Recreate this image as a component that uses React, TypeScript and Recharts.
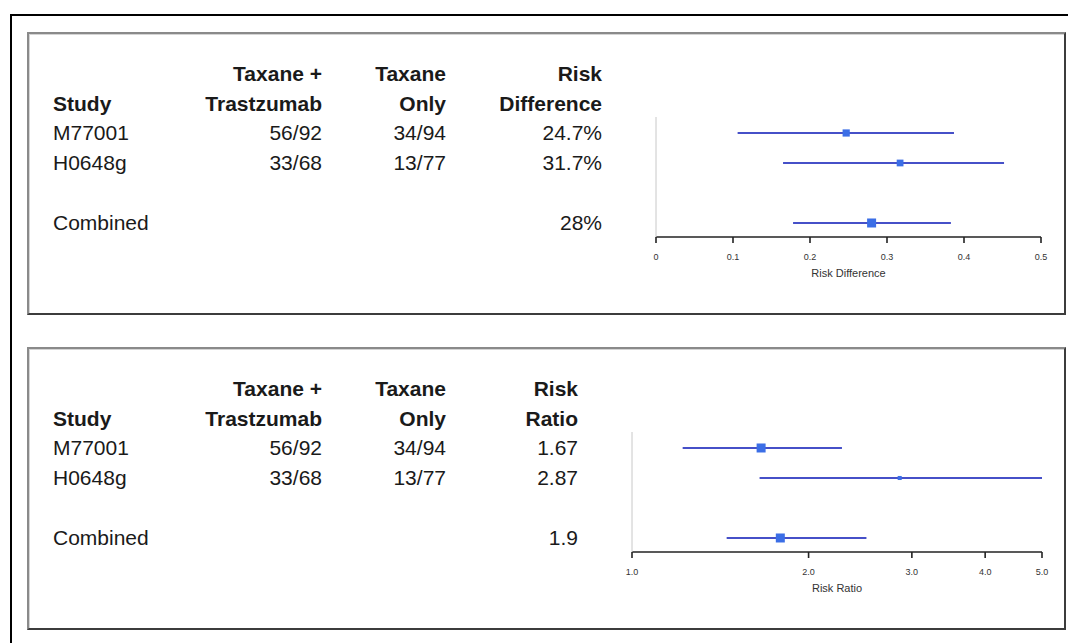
import React from "react";
import { ScatterChart, Scatter, XAxis, YAxis, ErrorBar } from "recharts";

// ---------- data ----------
const studies = ["M77001", "H0648g", "Combined"];
const treated = ["56/92", "33/68", ""];
const control = ["34/94", "13/77", ""];
const rowPos = [0, 1, 3];

const rdLabels = ["24.7%", "31.7%", "28%"];
const rdPoint = [0.247, 0.317, 0.28];
const rdLow = [0.106, 0.165, 0.178];
const rdHigh = [0.387, 0.452, 0.383];
const rdWeight = [0.8, 0.75, 1.0];
const rdTicks = [0, 0.1, 0.2, 0.3, 0.4, 0.5];

const rrLabels = ["1.67", "2.87", "1.9"];
const rrPoint = [1.66, 2.86, 1.79];
const rrLow = [1.22, 1.65, 1.45];
const rrHigh = [2.28, 5.0, 2.51];
const rrWeight = [1.0, 0.45, 1.0];
const rrTicks = [1, 2, 3, 4, 5];

// ---------- styling ----------
const FONT = "'Liberation Sans', Arial, Helvetica, sans-serif";
const LINE = "#4650c8";
const BOX = "#3b6ee6";
const MAXBOX = 9;

function buildData(pt: number[], lo: number[], hi: number[], w: number[]) {
  return pt.map((x, i) => ({
    x,
    y: rowPos[i],
    err: [x - lo[i], hi[i] - x],
    w: w[i],
  }));
}

function Square(props: any) {
  const { cx, cy, payload } = props;
  if (cx == null || cy == null) return null;
  const s = payload.w * MAXBOX;
  return <rect x={cx - s / 2} y={cy - s / 2} width={s} height={s} fill={BOX} />;
}

function Forest(props: {
  left: number;
  top: number;
  plotW: number;
  data: any[];
  domain: [number, number];
  ticks: number[];
  scale: any;
  fmt: (v: number) => string;
  label: string;
}) {
  const { left, top, plotW, data, domain, ticks, scale, fmt, label } = props;
  const m = { top: 10, right: 20, bottom: 5, left: 9 };
  const yw = 1;
  return (
    <div style={{ position: "absolute", left: left - m.left - yw, top: top - m.top }}>
      <ScatterChart width={plotW + m.left + m.right + yw} height={m.top + 120 + 41 + m.bottom} margin={m}>
        <XAxis
          type="number"
          dataKey="x"
          domain={domain}
          scale={scale}
          ticks={ticks}
          interval={0}
          allowDataOverflow
          tickFormatter={fmt}
          axisLine={{ stroke: "#222", strokeWidth: 1.6 }}
          tickLine={{ stroke: "#222", strokeWidth: 1.6 }}
          tickSize={6}
          tickMargin={11}
          height={41}
          tick={{ fontSize: 9, fill: "#333", fontFamily: FONT }}
          label={{ value: label, position: "insideBottom", offset: 1, fontSize: 11, fill: "#333", fontFamily: FONT }}
        />
        <YAxis
          type="number"
          dataKey="y"
          domain={[-0.533, 3.467]}
          reversed
          allowDataOverflow
          width={yw}
          tick={false}
          tickLine={false}
          axisLine={{ stroke: "#c8c8c8", strokeWidth: 1 }}
        />
        <Scatter data={data} shape={<Square />} isAnimationActive={false}>
          <ErrorBar dataKey="err" direction="x" width={0} stroke={LINE} strokeWidth={2} />
        </Scatter>
      </ScatterChart>
    </div>
  );
}

function Cell(props: { x: number; y: number; right?: boolean; bold?: boolean; children: any }) {
  const { x, y, right, bold, children } = props;
  const style: any = {
    position: "absolute",
    top: y,
    fontFamily: FONT,
    fontSize: 21,
    lineHeight: "30px",
    color: "#1a1a1a",
    fontWeight: bold ? 700 : 400,
    whiteSpace: "nowrap",
  };
  if (right) {
    style.left = x - 300;
    style.width = 300;
    style.textAlign = "right";
  } else {
    style.left = x;
  }
  return <div style={style}>{children}</div>;
}

function Table(props: { off: number; h1: string; h2: string; col4: number; values: string[] }) {
  const { off, h1, h2, col4, values } = props;
  const rowTop = [118, 148, 208];
  return (
    <>
      <Cell x={322} y={off + 59} right bold>Taxane +</Cell>
      <Cell x={446} y={off + 59} right bold>Taxane</Cell>
      <Cell x={col4} y={off + 59} right bold>{h1}</Cell>
      <Cell x={53} y={off + 89} bold>Study</Cell>
      <Cell x={322} y={off + 89} right bold>Trastzumab</Cell>
      <Cell x={446} y={off + 89} right bold>Only</Cell>
      <Cell x={col4} y={off + 89} right bold>{h2}</Cell>
      {studies.map((s, i) => (
        <React.Fragment key={s}>
          <Cell x={53} y={off + rowTop[i]}>{s}</Cell>
          <Cell x={322} y={off + rowTop[i]} right>{treated[i]}</Cell>
          <Cell x={446} y={off + rowTop[i]} right>{control[i]}</Cell>
          <Cell x={col4} y={off + rowTop[i]} right>{values[i]}</Cell>
        </React.Fragment>
      ))}
    </>
  );
}

function PanelBox(props: { top: number }) {
  return (
    <div
      style={{
        position: "absolute",
        left: 27,
        top: props.top,
        width: 1039,
        height: 283,
        boxSizing: "border-box",
        borderLeft: "2px solid #8a8a8a",
        borderTop: "2px solid #8a8a8a",
        borderRight: "2px solid #3c3c3c",
        borderBottom: "2px solid #3c3c3c",
        boxShadow: "inset 1px 1px 0 #d4d4d4",
        background: "#fff",
      }}
    />
  );
}

export default function App() {
  const rdData = buildData(rdPoint, rdLow, rdHigh, rdWeight);
  const rrData = buildData(rrPoint, rrLow, rrHigh, rrWeight);
  return (
    <div
      style={{
        position: "fixed",
        left: 0,
        top: 0,
        width: 1068,
        height: 643,
        overflow: "hidden",
        background: "#fff",
      }}
    >
      <div
        style={{
          position: "absolute",
          left: 10,
          top: 14,
          width: 1200,
          height: 800,
          borderLeft: "2px solid #000",
          borderTop: "2px solid #000",
        }}
      />
      <PanelBox top={32} />
      <PanelBox top={347} />
      <Table off={0} h1="Risk" h2="Difference" col4={602} values={rdLabels} />
      <Table off={315} h1="Risk" h2="Ratio" col4={578} values={rrLabels} />
      <Forest
        left={656}
        top={117}
        plotW={385}
        data={rdData}
        domain={[0, 0.5]}
        ticks={rdTicks}
        scale="linear"
        fmt={(v) => (v === 0 ? "0" : String(v))}
        label="Risk Difference"
      />
      <Forest
        left={632}
        top={432}
        plotW={410}
        data={rrData}
        domain={[1, 5]}
        ticks={rrTicks}
        scale="log"
        fmt={(v) => v.toFixed(1)}
        label="Risk Ratio"
      />
    </div>
  );
}
